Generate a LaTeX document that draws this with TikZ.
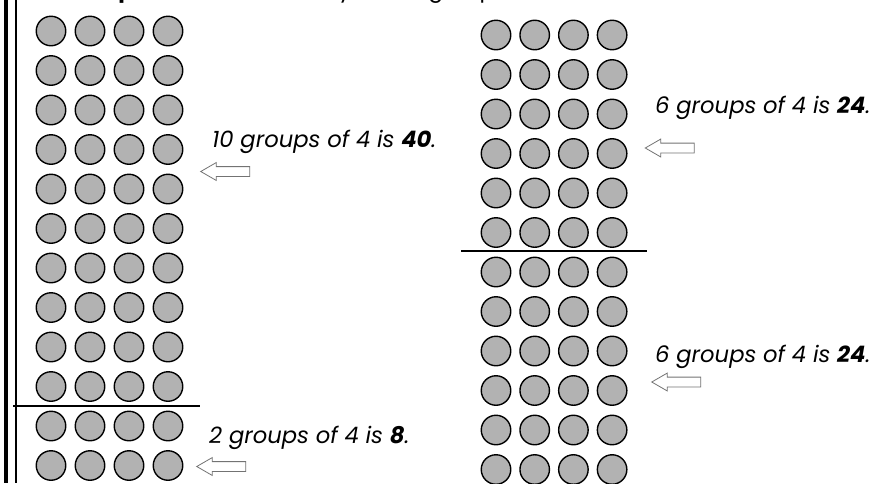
\documentclass[tikz,border=0pt]{standalone}
\usepackage{fontspec}
\setmainfont{Poppins}
\usetikzlibrary{shapes.arrows}

\tikzset{
  bead/.style={circle,draw=black,line width=1.4pt,fill=black!30,minimum size=29.5pt,inner sep=0pt},
  hint/.style={single arrow,draw=black!55,fill=white,line width=0.8pt,shape border rotate=180,
    minimum height=49pt,inner xsep=0pt,inner ysep=4.5pt,single arrow head extend=4pt,single arrow tip angle=60},
  fact/.style={anchor=base west,inner sep=0pt,font=\fontsize{22.7}{26}\selectfont\itshape},
  cut/.style={line width=1.6pt},
}

\begin{document}
\begin{tikzpicture}[x=1pt,y=-1pt]
  \useasboundingbox (0,0) rectangle (872,483);
  \clip (0,0) rectangle (872,483);

  % heading line, only its lower edge shows
  \node[anchor=base west,inner sep=0pt,font=\fontsize{22}{26}\selectfont] (head) at (55,-3)
    {\textbf{Example:} Look at the array in two groups.};

  % margin rules
  \fill (3.5,0) rectangle (8,483);
  \draw[line width=1.2pt] (16,0) coordinate (m1) -- (16,483) coordinate (m2);

  % left array: 12 rows of 4
  \foreach \r in {1,...,12}
    \foreach \c in {1,...,4}
      \node[bead] (l-\r-\c) at ({51+39*(\c-1)},{31+39.5*(\r-1)}) {};

  % right array: 12 rows of 4
  \foreach \r in {1,...,12}
    \foreach \c in {1,...,4}
      \node[bead] (r-\r-\c) at ({496+38.7*(\c-1)},{35+39.5*(\r-1)}) {};

  % split lines
  \coordinate (lcut1) at (13,406);
  \coordinate (lcut2) at (200,406);
  \draw[cut] (lcut1) -- (lcut2);
  \coordinate (rcut1) at (461,251);
  \coordinate (rcut2) at (647,251);
  \draw[cut] (rcut1) -- (rcut2);

  % labels
  \node[fact] (ten) at (212,147) {10 groups of 4 is \textbf{40}.};
  \node[hint] (aten) at (229.5,171.5) {};

  \node[fact] (two) at (209,443) {2 groups of 4 is \textbf{8}.};
  \node[hint] (atwo) at (225.5,466.5) {};

  \node[fact] (sixa) at (655,113) {6 groups of 4 is \textbf{24}.};
  \node[hint] (asixa) at (674,148) {};

  \node[fact] (sixb) at (655,362) {6 groups of 4 is \textbf{24}.};
  \node[hint] (asixb) at (680.5,382) {};
\end{tikzpicture}
\end{document}
